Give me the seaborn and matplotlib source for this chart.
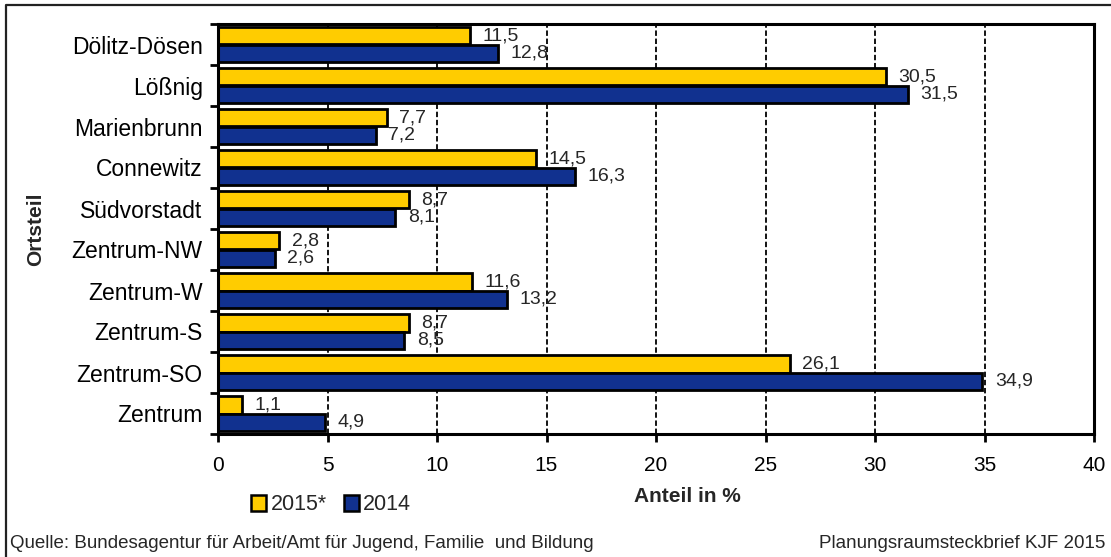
import pandas as pd
import matplotlib
matplotlib.use('Agg')
import matplotlib.pyplot as plt
from matplotlib.patches import Patch
from matplotlib.lines import Line2D
from matplotlib.ticker import FixedLocator
import seaborn as sns

# Data
ortsteile = ['Dölitz-Dösen', 'Lößnig', 'Marienbrunn', 'Connewitz', 'Südvorstadt',
             'Zentrum-NW', 'Zentrum-W', 'Zentrum-S', 'Zentrum-SO', 'Zentrum']
werte_2015 = [11.5, 30.5, 7.7, 14.5, 8.7, 2.8, 11.6, 8.7, 26.1, 1.1]
werte_2014 = [12.8, 31.5, 7.2, 16.3, 8.1, 2.6, 13.2, 8.5, 34.9, 4.9]
jahre = ['2015*', '2014']
x_ticks = [0, 5, 10, 15, 20, 25, 30, 35, 40]

sns.set_style("white")
plt.rcParams['font.family'] = ['Liberation Sans', 'DejaVu Sans']

farben = {'2015*': '#FFCC00', '2014': '#11318F'}

df = pd.DataFrame({
    'Ortsteil': ortsteile * 2,
    'Anteil': werte_2015 + werte_2014,
    'Jahr': [jahre[0]] * len(ortsteile) + [jahre[1]] * len(ortsteile),
})

W, H = 1111, 557
fig = plt.figure(figsize=(W / 100, H / 100), dpi=100)
ax = fig.add_axes([218 / W, 1 - 434 / H, (1094 - 218) / W, (434 - 24) / H])

sns.barplot(data=df, x='Anteil', y='Ortsteil', hue='Jahr', hue_order=jahre,
            palette=farben, orient='h', width=0.84, saturation=1,
            edgecolor='black', linewidth=2.0, legend=False, ax=ax)

# Value labels with decimal comma
for cont, vals in zip(ax.containers, [werte_2015, werte_2014]):
    ax.bar_label(cont, labels=[f'{v:.1f}'.replace('.', ',') for v in vals],
                 padding=9, fontsize=14)

ax.set_xlim(0, 40)
ax.set_xticks(x_ticks)
ax.set_ylim(len(ortsteile) - 0.5, -0.5)

# grid
ax.set_axisbelow(True)
ax.xaxis.grid(True, linestyle=(0, (3, 1.5)), color='black', linewidth=1.3)
ax.yaxis.grid(False)

for sp in ax.spines.values():
    sp.set_visible(True)
    sp.set_color('black')
    sp.set_linewidth(2.2)

ax.tick_params(axis='x', direction='out', length=6, width=2, pad=10,
               labelsize=15, colors='black', bottom=True)
ax.tick_params(axis='y', which='major', length=0, pad=11, labelsize=16.5,
               colors='black')
ax.yaxis.set_minor_locator(FixedLocator([i - 0.5 for i in range(len(ortsteile) + 1)]))
ax.tick_params(axis='y', which='minor', direction='out', length=6, width=2,
               left=True, color='black')

ax.set_xlabel('')
ax.set_ylabel('Ortsteil', fontsize=15, fontweight='bold')
ax.yaxis.set_label_coords((45 - 218) / (1094 - 218), 0.5)

fig.text(687 / W, 1 - 497 / H, 'Anteil in %', fontsize=15, fontweight='bold',
         ha='center', va='center')

# Legend
handles = [Patch(facecolor=farben[j], edgecolor='black', linewidth=1.8, label=j)
           for j in jahre]
fig.legend(handles=handles, loc='center left', bbox_to_anchor=(251 / W, 1 - 505 / H),
           ncol=2, frameon=False, fontsize=15.5, handlelength=0.7, handleheight=0.7,
           handletextpad=0.2, columnspacing=0.8, borderpad=0, borderaxespad=0)

# Footer
fig.text(10 / W, 1 - 543 / H,
         'Quelle: Bundesagentur für Arbeit/Amt für Jugend, Familie  und Bildung',
         fontsize=13.5, ha='left', va='center')
fig.text(1105 / W, 1 - 543 / H, 'Planungsraumsteckbrief KJF 2015',
         fontsize=13.5, ha='right', va='center')

# Outer frame (left and top edges visible)
fig.add_artist(Line2D([6 / W, 6 / W, 1.0], [0.0, 1 - 5 / H, 1 - 5 / H],
                      transform=fig.transFigure, color='#222222', linewidth=1.6))

fig.savefig('out.png', dpi=100)
